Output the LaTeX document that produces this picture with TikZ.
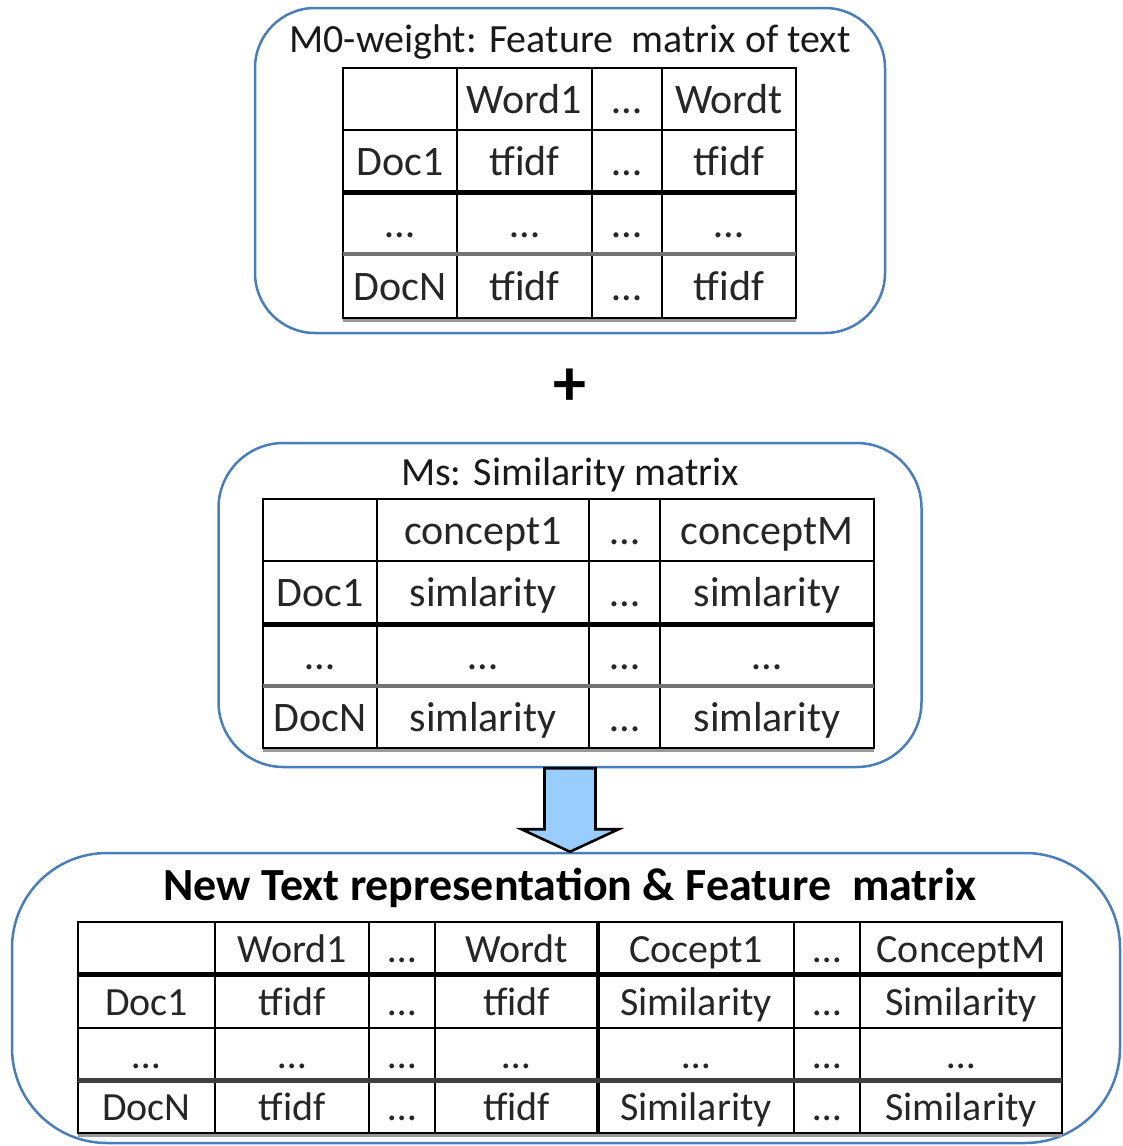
\documentclass[tikz,border=0pt]{standalone}
\usepackage{fontspec}
\setmainfont{Carlito}
\usetikzlibrary{calc}
\definecolor{boxblue}{RGB}{74,126,187}
\definecolor{arrowfill}{RGB}{153,204,255}
\tikzset{
  panel/.style={draw=boxblue, line width=2.5pt, inner sep=0pt},
  cell/.style={inner sep=0pt, text height=30pt, text depth=2pt, text=black!85,
    font=\fontsize{42}{42}\selectfont},
  smallcell/.style={cell, font=\fontsize{40}{40}\selectfont},
  ttl/.style={inner sep=0pt, anchor=base, text=black!90, font=\fontsize{40}{40}\selectfont},
  gridline/.style={line width=2.6pt, black, line cap=rect},
  heavy/.style={line width=5pt, black},
  shade/.style={line width=4pt, black!55},
  under/.style={line width=3pt, black!40},
}
\begin{document}
\begin{tikzpicture}[x=1pt, y=-1pt]
  \fill[white] (0,0) rectangle (1123,1146);
  \useasboundingbox (0,0) rectangle (1123,1146);

  % ---------- panels ----------
  \node[panel, rounded corners=60pt, minimum width=630pt, minimum height=325pt] (topbox) at (570,170.5) {};
  \node[panel, rounded corners=65pt, minimum width=703pt, minimum height=324pt] (midbox) at (570,605) {};
  \node[panel, rounded corners=95pt, minimum width=1108pt, minimum height=290pt] (botbox) at (566,998) {};

  % ---------- titles ----------
  \node[ttl] (toptitle) at (570,52) {M0-weight: Feature\ \ matrix of text};
  \node[ttl] (midtitle) at (570,485) {Ms: Similarity matrix};
  \node[ttl, font=\fontsize{46}{46}\selectfont\bfseries, text=black] (bottitle) at (570,900)
    {New Text representation \& Feature\ \ matrix};

  % ---------- plus sign ----------
  \node[inner sep=0pt, font=\fontsize{66}{66}\selectfont\bfseries] (plus) at (570,387) {+};

  % ---------- top table: tf-idf weights ----------
  \draw[gridline] (343,68) rectangle (796,318);
  \foreach \x in {457,592,662} \draw[gridline] (\x,68) -- (\x,318);
  \draw[gridline] (343,130) -- (796,130);
  \draw[heavy] (343,192) -- (796,192);
  \draw[shade] (343,254) -- (796,254);
  \draw[under] (343,320.5) -- (796,320.5);

  \node[cell] (t01) at (524.5,99) {Word1};
  \node[cell] (t02) at (627,99) {…};
  \node[cell] (t03) at (729,99) {Wordt};
  \node[cell] (t10) at (400,161) {Doc1};
  \node[cell] (t11) at (524.5,161) {tfidf};
  \node[cell] (t12) at (627,161) {…};
  \node[cell] (t13) at (729,161) {tfidf};
  \node[cell] (t20) at (400,223) {…};
  \node[cell] (t21) at (524.5,223) {…};
  \node[cell] (t22) at (627,223) {…};
  \node[cell] (t23) at (729,223) {…};
  \node[cell] (t30) at (400,286) {DocN};
  \node[cell] (t31) at (524.5,286) {tfidf};
  \node[cell] (t32) at (627,286) {…};
  \node[cell] (t33) at (729,286) {tfidf};

  % ---------- middle table: concept similarity ----------
  \draw[gridline] (263,499) rectangle (874,748);
  \foreach \x in {377,589,660} \draw[gridline] (\x,499) -- (\x,748);
  \draw[gridline] (263,561) -- (874,561);
  \draw[heavy] (263,624) -- (874,624);
  \draw[shade] (263,686) -- (874,686);
  \draw[under] (263,750.5) -- (874,750.5);

  \node[cell] (m01) at (483,530) {concept1};
  \node[cell] (m02) at (624.5,530) {…};
  \node[cell] (m03) at (767,530) {conceptM};
  \node[cell] (m10) at (320,592.5) {Doc1};
  \node[cell] (m11) at (483,592.5) {simlarity};
  \node[cell] (m12) at (624.5,592.5) {…};
  \node[cell] (m13) at (767,592.5) {simlarity};
  \node[cell] (m20) at (320,655) {…};
  \node[cell] (m21) at (483,655) {…};
  \node[cell] (m22) at (624.5,655) {…};
  \node[cell] (m23) at (767,655) {…};
  \node[cell] (m30) at (320,717) {DocN};
  \node[cell] (m31) at (483,717) {simlarity};
  \node[cell] (m32) at (624.5,717) {…};
  \node[cell] (m33) at (767,717) {simlarity};

  % ---------- combined table ----------
  \draw[gridline] (78,922) rectangle (1062,1133);
  \foreach \x in {215,369,435,794,860} \draw[gridline] (\x,922) -- (\x,1133);
  \draw[line width=4pt, black] (598,922) -- (598,1133);
  \draw[heavy] (78,974) -- (1062,974);
  \draw[gridline] (78,1028) -- (1062,1028);
  \draw[line width=5pt, black!75] (78,1080) -- (1062,1080);
  \draw[under] (78,1135.5) -- (1062,1135.5);

  \node[smallcell] (b01) at (292,948) {Word1};
  \node[smallcell] (b02) at (402,948) {…};
  \node[smallcell] (b03) at (516.5,948) {Wordt};
  \node[smallcell] (b04) at (696,948) {Cocept1};
  \node[smallcell] (b05) at (827,948) {…};
  \node[smallcell] (b06) at (961,948) {ConceptM};
  \node[smallcell] (b10) at (146.5,1001) {Doc1};
  \node[smallcell] (b11) at (292,1001) {tfidf};
  \node[smallcell] (b12) at (402,1001) {…};
  \node[smallcell] (b13) at (516.5,1001) {tfidf};
  \node[smallcell] (b14) at (696,1001) {Similarity};
  \node[smallcell] (b15) at (827,1001) {…};
  \node[smallcell] (b16) at (961,1001) {Similarity};
  \node[smallcell] (b20) at (146.5,1054) {…};
  \node[smallcell] (b21) at (292,1054) {…};
  \node[smallcell] (b22) at (402,1054) {…};
  \node[smallcell] (b23) at (516.5,1054) {…};
  \node[smallcell] (b24) at (696,1054) {…};
  \node[smallcell] (b25) at (827,1054) {…};
  \node[smallcell] (b26) at (961,1054) {…};
  \node[smallcell] (b30) at (146.5,1106.5) {DocN};
  \node[smallcell] (b31) at (292,1106.5) {tfidf};
  \node[smallcell] (b32) at (402,1106.5) {…};
  \node[smallcell] (b33) at (516.5,1106.5) {tfidf};
  \node[smallcell] (b34) at (696,1106.5) {Similarity};
  \node[smallcell] (b35) at (827,1106.5) {…};
  \node[smallcell] (b36) at (961,1106.5) {Similarity};

  % ---------- block arrow from the similarity panel to the combined panel ----------
  \coordinate (tip) at (midbox.south |- botbox.north);
  \draw[line width=2.6pt, fill=arrowfill, line join=miter]
    ($(midbox.south)+(-25.5,0)$) -- ($(midbox.south)+(-25.5,61)$)
    -- ($(midbox.south)+(-48.5,61)$) -- (tip)
    -- ($(midbox.south)+(48.5,61)$) -- ($(midbox.south)+(25.5,61)$)
    -- ($(midbox.south)+(25.5,0)$) -- cycle;
\end{tikzpicture}
\end{document}
